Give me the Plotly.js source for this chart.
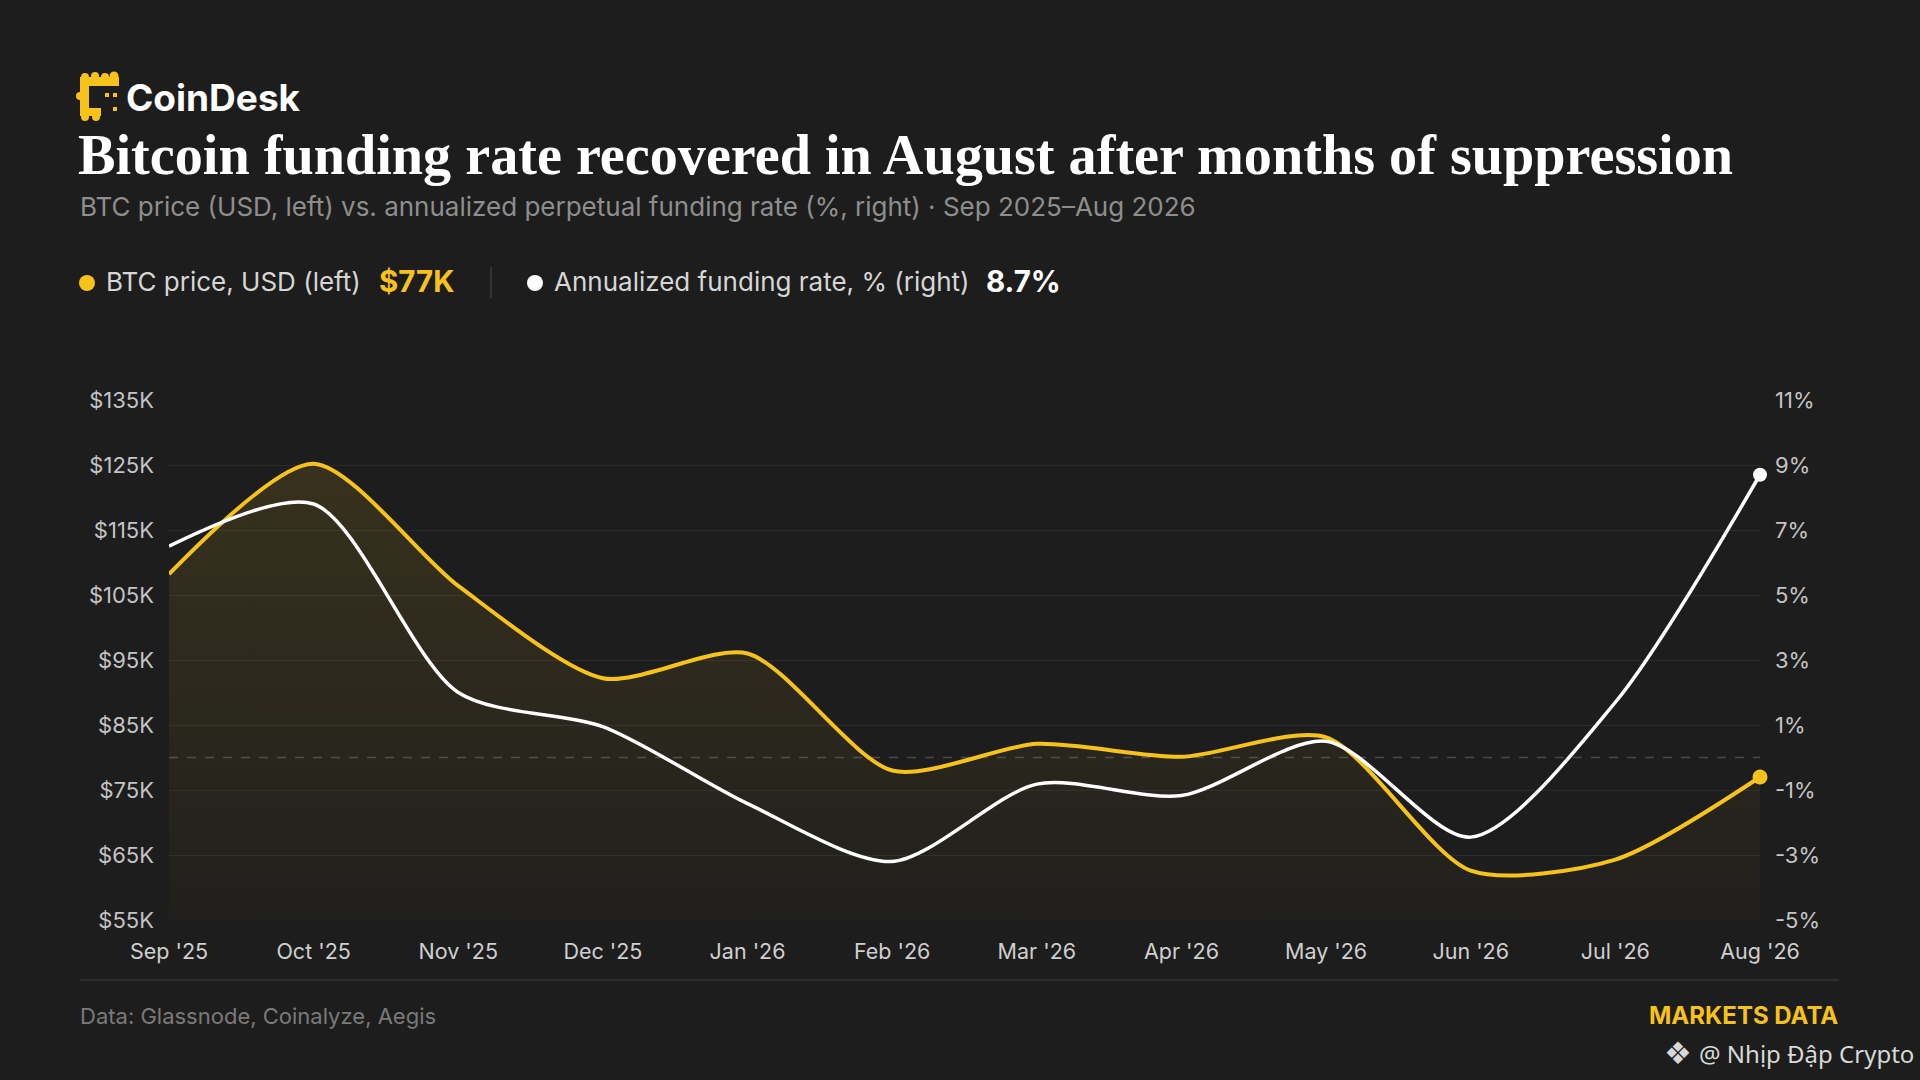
<!DOCTYPE html>
<html>
<head>
<meta charset="utf-8">
<script src="https://cdn.plot.ly/plotly-3.0.1.min.js"></script>
<style>
  html, body { margin: 0; padding: 0; background: #1d1d1d; }
  #chart { width: 1920px; height: 1080px; }
</style>
</head>
<body>
<div id="chart"></div>
<script>
// ---- Data ----
const months = ["Sep '25","Oct '25","Nov '25","Dec '25","Jan '26","Feb '26","Mar '26","Apr '26","May '26","Jun '26","Jul '26","Aug '26"];
const btcPrice = [108200, 125200, 106400, 92200, 96000, 78000, 82100, 80100, 83100, 62600, 64300, 77000];
const fundingRate = [6.5, 7.8, 2.0, 0.95, -1.42, -3.2, -0.82, -1.17, 0.5, -2.45, 1.7, 8.7];

const btcTickVals = [55000, 65000, 75000, 85000, 95000, 105000, 115000, 125000, 135000];
const btcTickText = ["$55K", "$65K", "$75K", "$85K", "$95K", "$105K", "$115K", "$125K", "$135K"];
const rateTickVals = [-5, -3, -1, 1, 3, 5, 7, 9, 11];
const rateTickText = ["-5%", "-3%", "-1%", "1%", "3%", "5%", "7%", "9%", "11%"];

const titleText = "Bitcoin funding rate recovered in August after months of suppression";
const subtitleText = "BTC price (USD, left) vs. annualized perpetual funding rate (%, right) · Sep 2025–Aug 2026";
const sourceText = "Data: Glassnode, Coinalyze, Aegis";

// ---- Layout geometry ----
const W = 1920, H = 1080, ML = 169, MR = 160, MT = 400, MB = 160;
const PW = W - ML - MR, PH = H - MT - MB;
const px = x => (x - ML) / PW;
const py = y => (H - MB - y) / PH;

const YELLOW = "#f7c21a";
const BG = "#1d1d1d";
const SANS = "Inter, 'Noto Sans', sans-serif";

const lastBtc = btcPrice[btcPrice.length - 1];
const lastRate = fundingRate[fundingRate.length - 1];
const lastMonth = months[months.length - 1];

const traces = [
  {
    x: months, y: btcPrice, yaxis: "y", type: "scatter", mode: "lines",
    line: { color: YELLOW, width: 4, shape: "spline", smoothing: 0.75 },
    fill: "tozeroy",
    fillcolor: "rgba(247,194,26,0.1)",
    fillgradient: {
      type: "vertical",
      start: 55000, stop: 125000,
      colorscale: [[0, "rgba(247,194,26,0.015)"], [1, "rgba(247,194,26,0.12)"]]
    },
    hoverinfo: "skip"
  },
  {
    x: [lastMonth], y: [lastBtc], yaxis: "y", type: "scatter", mode: "markers",
    marker: { color: YELLOW, size: 15 }, cliponaxis: false, hoverinfo: "skip"
  },
  {
    x: months, y: fundingRate, yaxis: "y2", type: "scatter", mode: "lines",
    line: { color: "#ffffff", width: 3.5, shape: "spline", smoothing: 0.8 },
    hoverinfo: "skip"
  },
  {
    x: [lastMonth], y: [lastRate], yaxis: "y2", type: "scatter", mode: "markers",
    marker: { color: "#ffffff", size: 14 }, cliponaxis: false, hoverinfo: "skip"
  }
];

function ann(text, x, y, opts) {
  return Object.assign({
    text: text, xref: "paper", yref: "paper", x: px(x), y: py(y),
    xanchor: "left", yanchor: "middle", showarrow: false,
    font: { family: SANS, size: 24, color: "#d6d6d6" }
  }, opts || {});
}

const annotations = [
  ann("CoinDesk", 124, 97, { font: { family: SANS, size: 37, color: "#ffffff", weight: 700 } }),
  ann(titleText, 76, 155, { font: { family: "'Liberation Serif', 'DejaVu Serif', serif", size: 56.2, color: "#ffffff", weight: 700 } }),
  ann(subtitleText, 78, 206, { font: { family: SANS, size: 26, color: "#8e8e8e" } }),
  ann("BTC price, USD (left)", 104, 282, { font: { family: SANS, size: 26, color: "#d6d6d6" } }),
  ann("$" + Math.round(lastBtc / 1000) + "K", 377, 281, { font: { family: SANS, size: 29.5, color: YELLOW, weight: 700 } }),
  ann("Annualized funding rate, % (right)", 552, 282, { font: { family: SANS, size: 26, color: "#d6d6d6" } }),
  ann(lastRate.toFixed(1) + "%", 984, 281, { font: { family: SANS, size: 29.5, color: "#ffffff", weight: 700 } }),
  ann(sourceText, 78, 1016, { font: { family: SANS, size: 22, color: "#7a7a7a" } }),
  ann("MARKETS DATA", 1840, 1015, { xanchor: "right", font: { family: SANS, size: 24, color: YELLOW, weight: 700 } }),
  ann("❖", 1662, 1053, { font: { family: "'DejaVu Sans', sans-serif", size: 31, color: "#d8d8d8" } }),
  ann("@ Nhịp Đập Crypto", 1697, 1053, { font: { family: "'Noto Sans', 'Open Sans', sans-serif", size: 24, color: "#d8d8d8" } })
];

function rectShape(x0, y0, x1, y1, color) {
  return { type: "rect", xref: "paper", yref: "paper", x0: px(x0), x1: px(x1), y0: py(y1), y1: py(y0),
           fillcolor: color, line: { width: 0 }, layer: "above" };
}
function circleShape(cx, cy, r, color) {
  return { type: "circle", xref: "paper", yref: "paper", x0: px(cx - r), x1: px(cx + r), y0: py(cy + r), y1: py(cy - r),
           fillcolor: color, line: { width: 0 }, layer: "above" };
}

const shapes = [
  // zero funding reference line
  { type: "line", xref: "paper", yref: "y2", x0: 0, x1: 1, y0: 0, y1: 0,
    line: { color: "#4a4a4a", width: 1.5, dash: "dash" }, layer: "below" },
  // footer rule
  { type: "line", xref: "paper", yref: "paper", x0: px(80), x1: px(1839), y0: py(980), y1: py(980),
    line: { color: "#353535", width: 1.5 } },
  // legend separator
  { type: "line", xref: "paper", yref: "paper", x0: px(491), x1: px(491), y0: py(267), y1: py(298),
    line: { color: "#3c3c3c", width: 1.5 } },
  // legend dots
  circleShape(87, 283, 8, YELLOW),
  circleShape(535, 283, 8, "#ffffff"),
  // CoinDesk logo mark
  rectShape(80, 77, 119, 86, YELLOW),
  rectShape(80, 77, 89, 116, YELLOW),
  rectShape(80, 108, 101, 116, YELLOW),
  circleShape(85, 77, 4, YELLOW), circleShape(95, 76, 4, YELLOW), circleShape(105, 77, 4, YELLOW), circleShape(114, 76, 4.5, YELLOW),
  circleShape(80, 96, 4, YELLOW), circleShape(85, 117, 4, YELLOW), circleShape(96, 117, 4, YELLOW),
  rectShape(105, 93, 109, 97, YELLOW),
  rectShape(113, 93, 117, 97, YELLOW),
  rectShape(113, 107, 117, 111, YELLOW)
];

const layout = {
  width: W, height: H,
  margin: { l: ML, r: MR, t: MT, b: MB, pad: 0 },
  paper_bgcolor: BG, plot_bgcolor: BG,
  showlegend: false,
  font: { family: SANS, color: "#c8c8c8", size: 22 },
  xaxis: {
    type: "category", range: [0, months.length - 1],
    showgrid: false, zeroline: false, showline: false, ticks: "",
    tickfont: { family: SANS, size: 21.5, color: "#cfcfcf" },
    ticklabelstandoff: 16, fixedrange: true
  },
  yaxis: {
    range: [55000, 135000], tickvals: btcTickVals, ticktext: btcTickText,
    showgrid: true, gridcolor: "#2b2b2b", gridwidth: 1,
    zeroline: false, showline: false, ticks: "",
    tickfont: { family: SANS, size: 22, color: "#c4c4c4" },
    ticklabelstandoff: 14, fixedrange: true
  },
  yaxis2: {
    overlaying: "y", side: "right",
    range: [-5, 11], tickvals: rateTickVals, ticktext: rateTickText,
    showgrid: false, zeroline: false, showline: false, ticks: "",
    tickfont: { family: SANS, size: 22, color: "#c4c4c4" },
    ticklabelstandoff: 14, fixedrange: true
  },
  annotations: annotations,
  shapes: shapes
};

Plotly.newPlot("chart", traces, layout, { staticPlot: true, displayModeBar: false });
</script>
</body>
</html>
